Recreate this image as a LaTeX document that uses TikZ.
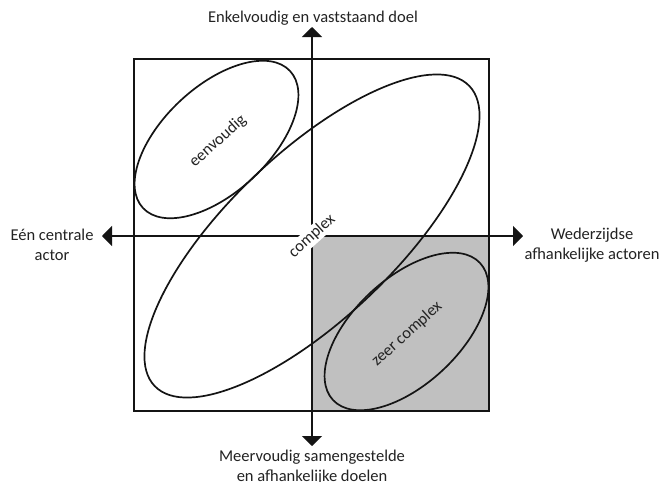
\documentclass[tikz,border=0pt]{standalone}
\usepackage{fontspec}
\setmainfont{Carlito}
\usetikzlibrary{arrows.meta}
\definecolor{txt}{RGB}{35,35,35}
\definecolor{quadgray}{RGB}{192,192,192}
\definecolor{ln}{RGB}{20,20,20}
\tikzset{
  lbl/.style={font=\fontsize{16.5}{19.5}\selectfont, text=txt, align=center, inner sep=0pt},
  tlbl/.style={lbl, rotate=42},
  axis/.style={draw=ln, line width=1.5pt, -{Triangle[length=10pt,width=20pt]}},
  frame/.style={draw=ln, line width=1.5pt},
  oval/.style={draw=ln, line width=1.7pt}
}
\begin{document}
\begin{tikzpicture}[x=1pt,y=-1pt]
\useasboundingbox[fill=white] (0,0) rectangle (662,482);
% shaded quadrant
\fill[quadgray] (312,236) rectangle (489,411);
% frame
\draw[frame] (134,59) rectangle (489,411);
% axes
\coordinate (c) at (312,236);
\coordinate (up) at (312,27);
\coordinate (down) at (312,446);
\coordinate (left) at (102,236);
\coordinate (right) at (523,236);
\draw[axis] (c) -- (up);
\draw[axis] (c) -- (down);
\draw[axis] (c) -- (left);
\draw[axis] (c) -- (right);
% ellipses
\coordinate (e1) at (216.5,139.5);
\coordinate (e2) at (406.5,331.5);
\draw[oval, rotate around={43:(e1)}] (e1) ellipse [x radius=100.5pt, y radius=53pt];
\draw[oval, rotate around={43.6:(c)}] (c) ellipse [x radius=217.4pt, y radius=83pt];
\draw[oval, rotate around={43:(e2)}] (e2) ellipse [x radius=100.5pt, y radius=53pt];
% labels
\node[tlbl] (eenv) at (218,141) {eenvoudig};
\node[tlbl, fill=white, inner sep=1.5pt] (cplx) at (312,236) {complex};
\node[tlbl] (zeer) at (407,334) {zeer complex};
\node[lbl] (top) at (313,18) {Enkelvoudig en vaststaand doel};
\node[lbl] (lft) at (52,245) {Eén centrale\\actor};
\node[lbl] (rgt) at (592,245) {Wederzijdse\\afhankelijke actoren};
\node[lbl] (bot) at (312,467) {Meervoudig samengestelde\\en afhankelijke doelen};
\end{tikzpicture}
\end{document}
